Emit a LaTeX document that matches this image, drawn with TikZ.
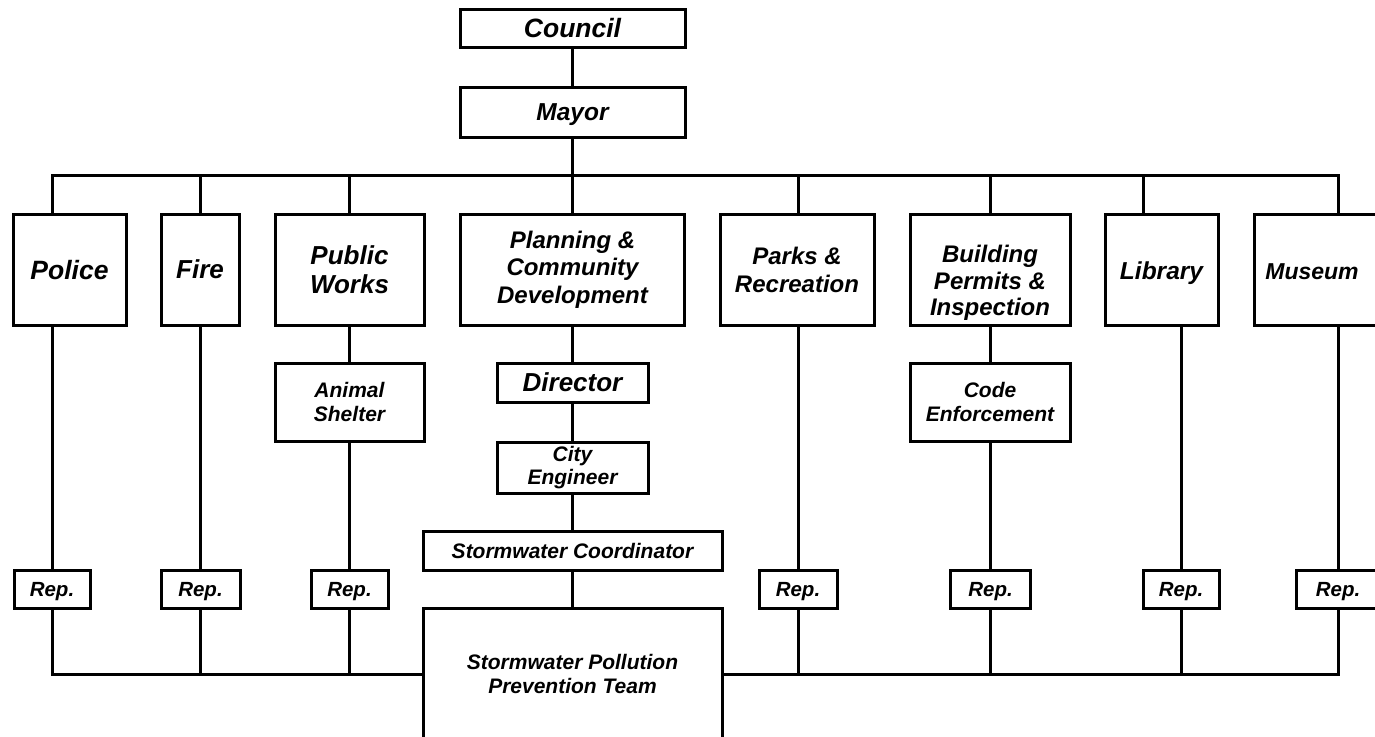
\documentclass[tikz,border=0pt]{standalone}
\usepackage{fontspec}
\setmainfont{Liberation Sans}
\newcommand\orgfont[2]{\bfseries\itshape\fontsize{#1}{#2}\selectfont}
\tikzset{
  box/.style={draw, line width=3pt, inner sep=0pt, align=center, fill=white},
  conn/.style={line width=3pt, line cap=rect},
  txt/.style={inner sep=0pt, align=center},
  capline/.style={text height=#1, text depth=0pt}
}
\begin{document}
\begin{tikzpicture}[x=1pt,y=-1pt]
\useasboundingbox (0,0) rectangle (1375,736);
\fill[white] (0,0) rectangle (1375,736);
\clip (0,0) rectangle (1375,736);

% column coordinates on the upper bus
\coordinate (c1) at (52,175);
\coordinate (c2) at (200,175);
\coordinate (c3) at (349.5,175);
\coordinate (c4) at (572.5,175);
\coordinate (c5) at (798,175);
\coordinate (c6) at (990.5,175);
\coordinate (c7) at (1143,175);
\coordinate (c8) at (1338,175);
\coordinate (c7b) at (1181,175);
% lower bus ends
\coordinate (bl) at (52,674);
\coordinate (br) at (1338,674);

% top
\node[box, minimum width=225pt, minimum height=38pt, capline=19pt, font=\orgfont{26.5}{30}] (council) at (572.5,28) {Council};
\node[box, minimum width=225pt, minimum height=50pt, capline=17.5pt, font=\orgfont{24.5}{28}] (mayor) at (572.5,112) {Mayor};

% departments
\node[box, minimum width=113pt, minimum height=111pt, capline=19pt, font=\orgfont{26.5}{29}] (police) at (69.5,269.5) {Police};
\node[box, minimum width=78pt, minimum height=111pt, capline=18.6pt, font=\orgfont{26}{29}] (fire) at (200,269.5) {Fire};
\node[box, minimum width=149pt, minimum height=111pt, font=\orgfont{26}{29.5}] (pw) at (349.5,269.5) {Public\\Works};
\node[box, minimum width=224pt, minimum height=111pt, font=\orgfont{24}{27.5}] (planning) at (572.5,269.5) {Planning \&\\Community\\Development};
\node[box, minimum width=154pt, minimum height=111pt, font=\orgfont{24}{28}] (parks) at (797,269.5) {Parks \&\\Recreation};
\node[box, minimum width=160pt, minimum height=111pt] (building) at (990,269.5) {};
\node[txt, font=\orgfont{24}{26.5}] (buildingtxt) at (990,283) {Building\\Permits \&\\Inspection};
\node[box, minimum width=113pt, minimum height=111pt] (library) at (1161.5,269.5) {};
\node[txt, capline=17.5pt, font=\orgfont{24.5}{28}] (librarytxt) at (1161.5,271) {Library};
\node[box, minimum width=130pt, minimum height=111pt] (museum) at (1319,269.5) {};
\node[txt, capline=16.5pt, font=\orgfont{23}{26}] (museumtxt) at (1312,271) {Museum};

% second level
\node[box, minimum width=149pt, minimum height=78pt, font=\orgfont{21}{24.5}] (shelter) at (349.5,402) {Animal\\Shelter};
\node[box, minimum width=151pt, minimum height=39pt, capline=18.6pt, font=\orgfont{26}{29}] (director) at (572.5,382.5) {Director};
\node[box, minimum width=151pt, minimum height=51pt, font=\orgfont{21}{22.5}] (engineer) at (572.5,467.5) {City\\Engineer};
\node[box, minimum width=299pt, minimum height=39pt, capline=15pt, font=\orgfont{21}{24}] (coord) at (572.5,550.5) {Stormwater Coordinator};
\node[box, minimum width=160pt, minimum height=78pt, font=\orgfont{21}{24.5}] (code) at (990,402) {Code\\Enforcement};
\node[box, minimum width=299pt, minimum height=132pt, font=\orgfont{21}{24.5}] (team) at (572.5,674) {Stormwater Pollution\\Prevention Team};

% reps
\tikzset{rep/.style={box, minimum height=38pt, capline=14.7pt, font=\orgfont{20.5}{24}}}
\node[rep, minimum width=76pt] (rep1) at (52,589) {Rep.};
\node[rep, minimum width=79pt] (rep2) at (200.5,589) {Rep.};
\node[rep, minimum width=77pt] (rep3) at (349.5,589) {Rep.};
\node[rep, minimum width=78pt] (rep5) at (798,589) {Rep.};
\node[rep, minimum width=80pt] (rep6) at (990.5,589) {Rep.};
\node[rep, minimum width=76pt] (rep7) at (1181,589) {Rep.};
\node[rep, minimum width=84pt] (rep8) at (1338,589) {Rep.};

% connectors: top
\draw[conn] (council) -- (mayor);
\draw[conn] (mayor) -- (planning);
\draw[conn] (c1) -- (c8);
\draw[conn] (c1) -- (c1 |- police.north);
\draw[conn] (c2) -- (c2 |- fire.north);
\draw[conn] (c3) -- (c3 |- pw.north);
\draw[conn] (c5) -- (c5 |- parks.north);
\draw[conn] (c6) -- (c6 |- building.north);
\draw[conn] (c7) -- (c7 |- library.north);
\draw[conn] (c8) -- (c8 |- museum.north);

% connectors: middle
\draw[conn] (police.south -| c1) -- (rep1.north);
\draw[conn] (fire.south -| c2) -- (rep2.north -| c2);
\draw[conn] (pw.south) -- (shelter.north);
\draw[conn] (shelter.south) -- (rep3.north);
\draw[conn] (planning.south) -- (director.north);
\draw[conn] (director.south) -- (engineer.north);
\draw[conn] (engineer.south) -- (coord.north);
\draw[conn] (coord.south) -- (team.north);
\draw[conn] (parks.south -| c5) -- (rep5.north);
\draw[conn] (building.south -| c6) -- (code.north -| c6);
\draw[conn] (code.south -| c6) -- (rep6.north);
\draw[conn] (library.south -| c7b) -- (rep7.north);
\draw[conn] (museum.south -| c8) -- (rep8.north);

% connectors: bottom
\draw[conn] (rep1.south) -- (bl);
\draw[conn] (bl) -- (bl -| team.west);
\draw[conn] (rep2.south -| c2) -- (c2 |- bl);
\draw[conn] (rep3.south) -- (rep3.south |- bl);
\draw[conn] (team.east |- br) -- (br);
\draw[conn] (rep5.south) -- (rep5.south |- br);
\draw[conn] (rep6.south) -- (rep6.south |- br);
\draw[conn] (rep7.south) -- (rep7.south |- br);
\draw[conn] (rep8.south) -- (br);
\end{tikzpicture}
\end{document}
